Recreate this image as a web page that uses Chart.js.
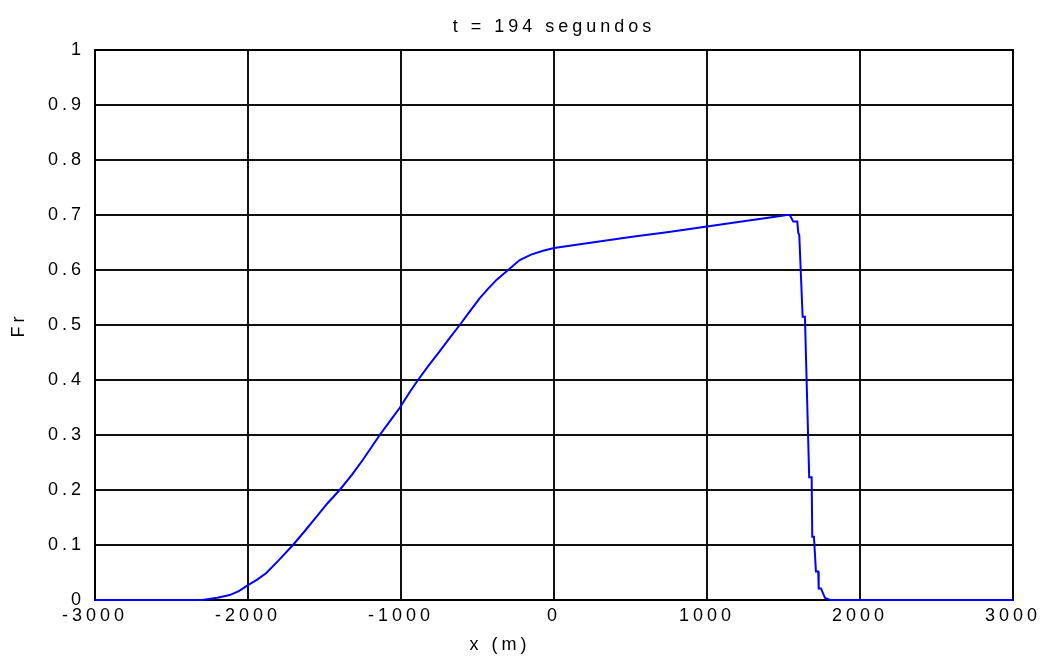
<!DOCTYPE html>
<html>
<head>
<meta charset="utf-8">
<script src="https://cdn.jsdelivr.net/npm/chart.js@4"></script>
<style>
  html, body { margin: 0; padding: 0; background: #fff; }
  #wrap { width: 1042px; height: 656px; }
</style>
</head>
<body>
<div id="wrap"><canvas id="c" width="1042" height="656"></canvas></div>
<script>
const titleText = 't = 194 segundos';
const xLabel = 'x (m)';
const yLabel = 'Fr';
const xTicks = [-3000, -2000, -1000, 0, 1000, 2000, 3000];
const yTicks = [0, 0.1, 0.2, 0.3, 0.4, 0.5, 0.6, 0.7, 0.8, 0.9, 1];

const xPos = [-3000, -2300, -2200, -2120, -2060, -2000, -1940, -1880, -1800, -1706,
  -1630, -1553, -1480, -1401, -1320, -1249, -1190, -1139, -1070, -1009,
  -950, -889, -820, -750, -680, -616, -560, -485, -430, -376,
  -300, -224, -150, -71, 0, 250, 500, 750, 1000, 1250,
  1480, 1520, 1541, 1564, 1590, 1597, 1603, 1625, 1640, 1668,
  1684, 1688, 1699, 1712, 1727, 1730, 1745, 1771, 1804, 3000];
const frVal = [0, 0, 0.004, 0.009, 0.016, 0.027, 0.037, 0.049, 0.072, 0.100,
  0.125, 0.151, 0.176, 0.200, 0.228, 0.255, 0.279, 0.300, 0.326, 0.349,
  0.375, 0.400, 0.426, 0.451, 0.477, 0.500, 0.521, 0.549, 0.566, 0.582,
  0.600, 0.618, 0.628, 0.635, 0.640, 0.650, 0.660, 0.669, 0.679, 0.689,
  0.698, 0.700, 0.700, 0.688, 0.688, 0.667, 0.664, 0.515, 0.515, 0.223,
  0.223, 0.115, 0.115, 0.052, 0.052, 0.021, 0.021, 0.004, 0, 0];

const points = xPos.map((x, i) => ({ x: x, y: frVal[i] }));
const FONT = "'Liberation Sans', Arial, sans-serif";
const SPACING = '4px';

const spacingPlugin = {
  id: 'spacing',
  beforeUpdate(chart) { chart.ctx.letterSpacing = SPACING; },
  beforeLayout(chart) { chart.ctx.letterSpacing = SPACING; },
  afterLayout(chart) {
    const t = chart.titleBlock, a = chart.chartArea;
    if (t && a) { t.left = a.left; t.right = a.right; t.width = a.right - a.left; }
  },
  beforeDraw(chart) { chart.ctx.letterSpacing = SPACING; }
};
const framePlugin = {
  id: 'frame',
  beforeDatasetsDraw(chart) {
    const a = chart.chartArea, ctx = chart.ctx;
    ctx.save();
    ctx.strokeStyle = '#000';
    ctx.lineWidth = 2;
    ctx.strokeRect(a.left, a.top, a.right - a.left, a.bottom - a.top);
    ctx.restore();
  }
};

new Chart(document.getElementById('c'), {
  type: 'line',
  data: {
    datasets: [{
      data: points,
      borderColor: '#0000ff',
      borderWidth: 2,
      pointRadius: 0,
      tension: 0,
      fill: false,
      clip: 3
    }]
  },
  options: {
    responsive: false,
    animation: false,
    layout: { padding: { left: 0, right: 29, top: 0, bottom: 0 } },
    plugins: {
      legend: { display: false },
      tooltip: { enabled: false },
      title: {
        display: true,
        text: titleText,
        color: '#000',
        font: { family: FONT, size: 18, weight: 'normal' },
        padding: { top: 16, bottom: 12.4 }
      }
    },
    scales: {
      x: {
        type: 'linear',
        min: -3000, max: 3000,
        afterBuildTicks(s) { s.ticks = xTicks.map(v => ({ value: v })); },
        afterFit(s) { s.height = 56; s.paddingLeft = 0; s.paddingRight = 0; },
        grid: { color: '#111', lineWidth: 2, drawTicks: false },
        border: { display: false },
        ticks: {
          color: '#000', font: { family: FONT, size: 18 }, padding: 5, maxRotation: 0, autoSkip: false,
          callback: v => String(v)
        },
        title: {
          display: true, text: xLabel + '\u00a0\u00a0\u00a0\u00a0\u00a0\u00a0\u00a0\u00a0\u00a0\u00a0\u00a0\u00a0',
          color: '#000', font: { family: FONT, size: 18 }, padding: { top: 3, bottom: 0 }
        }
      },
      y: {
        min: 0, max: 1,
        afterBuildTicks(s) { s.ticks = yTicks.map(v => ({ value: v })); },
        afterFit(s) { s.width = 95; s.paddingTop = 0; s.paddingBottom = 0; },
        grid: { color: '#111', lineWidth: 2, drawTicks: false },
        border: { display: false },
        ticks: {
          color: '#000', font: { family: FONT, size: 18 }, padding: 10,
          callback: v => String(v)
        },
        title: { display: true, text: yLabel, color: '#000', font: { family: FONT, size: 18 }, padding: { top: 8, bottom: 4 } }
      }
    }
  },
  plugins: [spacingPlugin, framePlugin]
});
</script>
</body>
</html>
